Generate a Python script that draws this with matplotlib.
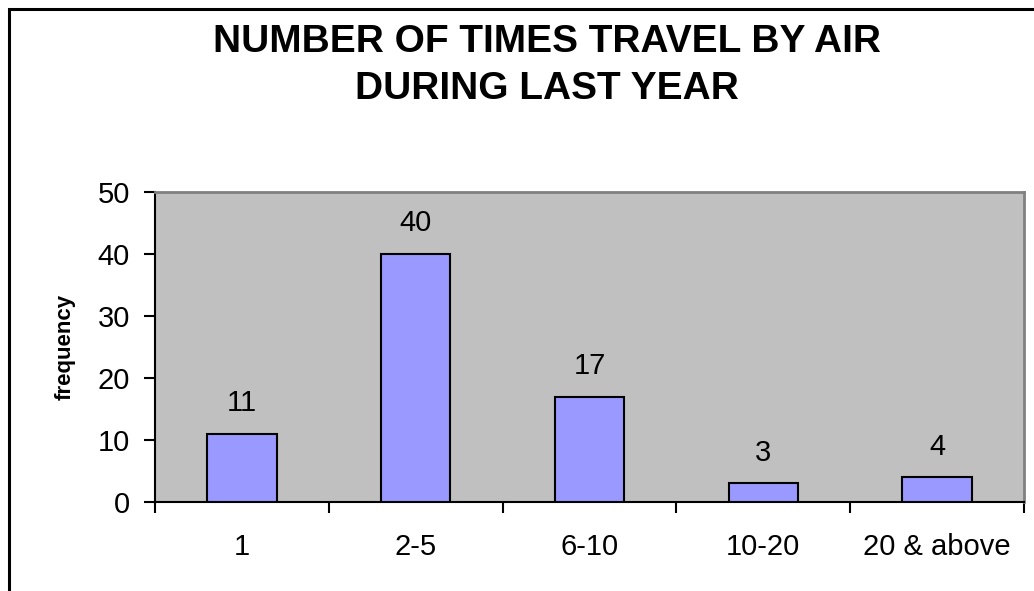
import matplotlib
matplotlib.use("Agg")
import matplotlib.pyplot as plt
from matplotlib.lines import Line2D

# data
categories = ["1", "2-5", "6-10", "10-20", "20 & above"]
frequency = [11, 40, 17, 3, 4]
y_ticks = [0, 10, 20, 30, 40, 50]

plt.rcParams['font.family'] = ['Liberation Sans', 'DejaVu Sans']

fig = plt.figure(figsize=(10.34, 5.91), dpi=100)
W, H = 1034, 591

# outer chart border (only left and top visible), drawn in pixel coords
border = Line2D([8.5, 8.5, W + 5], [-5, H - 8.5, H - 8.5], transform=None,
                color='black', linewidth=2.2, solid_joinstyle='miter')
fig.add_artist(border)

ax = fig.add_axes([155 / W, 1 - 502 / H, (1024 - 155) / W, (502 - 192) / H])
ax.set_facecolor('#c0c0c0')

x = list(range(len(categories)))
ax.bar(x, frequency, width=0.4, color='#9999ff', edgecolor='black', linewidth=1.5, zorder=3)

for xi, v in zip(x, frequency):
    ax.annotate(str(v), (xi, v), xytext=(0, 12), textcoords='offset points',
                ha='center', va='bottom', fontsize=21)

ax.set_xlim(-0.5, len(categories) - 0.5)
ax.set_ylim(0, 50)
ax.set_yticks(y_ticks)
ax.tick_params(axis='y', labelsize=21, length=8, width=1.5, direction='out', pad=10)

# x ticks at category boundaries, labels at centres
ax.set_xticks([i - 0.5 for i in range(len(categories) + 1)])
ax.set_xticklabels([])
ax.set_xticks(x, minor=True)
ax.set_xticklabels(categories, minor=True)
ax.tick_params(axis='x', which='major', length=8, width=1.5, direction='out')
ax.tick_params(axis='x', which='minor', length=0, labelsize=21, pad=22)

ax.set_ylabel('frequency', fontsize=16, fontweight='bold', labelpad=16)

for s in ['top', 'right']:
    ax.spines[s].set_color('#808080')
    ax.spines[s].set_linewidth(2)
for s in ['left', 'bottom']:
    ax.spines[s].set_color('black')
    ax.spines[s].set_linewidth(1.5)

fig.text(547 / W, 1 - 42 / H, 'NUMBER OF TIMES TRAVEL BY AIR', ha='center', va='center',
         fontsize=28, fontweight='bold')
fig.text(547 / W, 1 - 89 / H, 'DURING LAST YEAR', ha='center', va='center',
         fontsize=28, fontweight='bold')

fig.savefig('out.png', dpi=100, facecolor='white')
